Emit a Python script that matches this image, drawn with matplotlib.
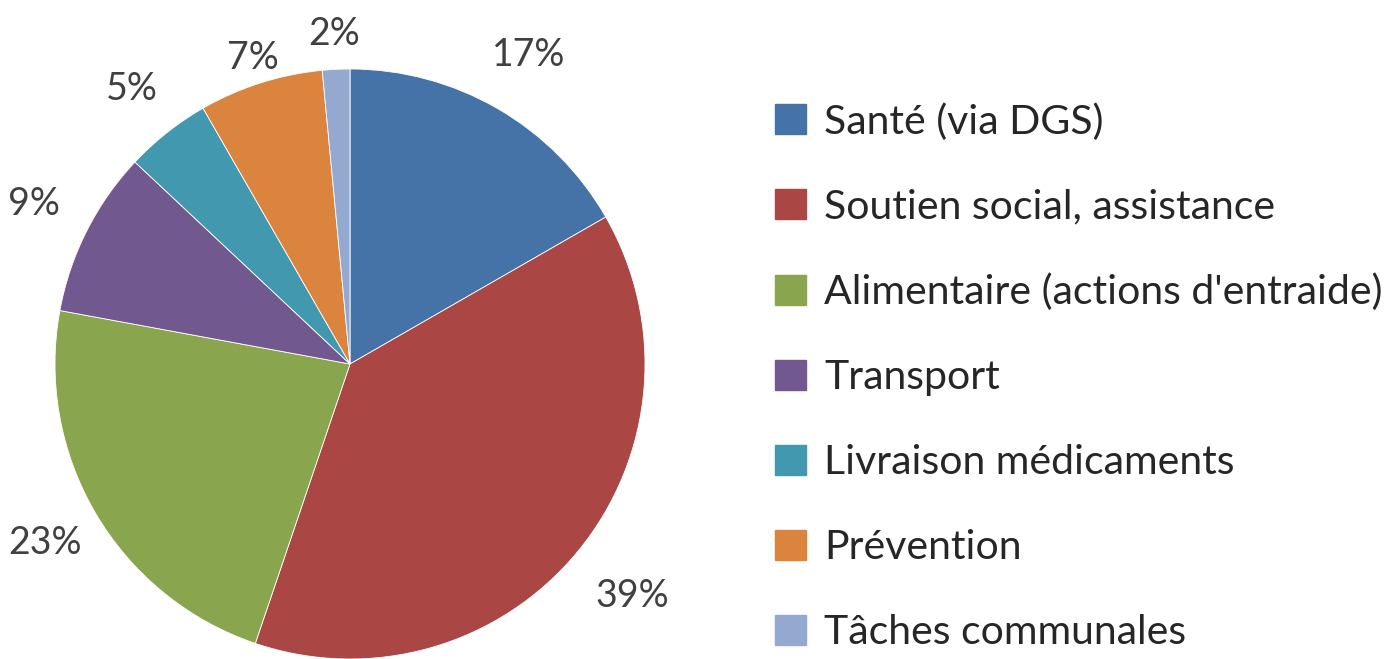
import numpy as np
import matplotlib.pyplot as plt
from matplotlib.patches import Patch

categories = ["Santé (via DGS)", "Soutien social, assistance",
              "Alimentaire (actions d'entraide)", "Transport",
              "Livraison médicaments", "Prévention", "Tâches communales"]
shares = [16.7, 38.5, 22.7, 9.1, 4.7, 6.8, 1.5]
pct_labels = ["17%", "39%", "23%", "9%", "5%", "7%", "2%"]
colors = ["#4572A7", "#AA4643", "#89A54E", "#71588F", "#4198AF", "#DB843D", "#93A9CF"]
# how far out each percentage label sits (in pie radii)
label_dist = [1.21, 1.24, 1.2, 1.2, 1.19, 1.09, 1.12]

plt.rcParams['font.family'] = ['Lato', 'DejaVu Sans']

fig = plt.figure(figsize=(13.96, 6.59), dpi=100)
ax = fig.add_axes([55 / 1396, 0, 590 / 1396, 590 / 659])

wedges, _ = ax.pie(shares, colors=colors, startangle=90, counterclock=False, radius=1,
                   wedgeprops=dict(edgecolor="white", linewidth=0.6))
for w, lab, d in zip(wedges, pct_labels, label_dist):
    mid = np.deg2rad((w.theta1 + w.theta2) / 2)
    ax.text(d * np.cos(mid), d * np.sin(mid), lab, ha="center", va="center",
            fontsize=27, color="#404040")
ax.set_xlim(-1, 1)
ax.set_ylim(-1, 1)
ax.set_aspect("equal")
ax.axis("off")

handles = [Patch(facecolor=c, edgecolor=c) for c in colors]
fig.legend(handles, categories, loc="upper left", bbox_to_anchor=(775 / 1396, 1 - 103 / 659),
           frameon=False, fontsize=29.5, labelcolor="#262626",
           handlelength=0.75, handleheight=0.75, handletextpad=0.45,
           labelspacing=1.17, borderaxespad=0, borderpad=0)

fig.savefig("out.png", dpi=100, facecolor="white")
